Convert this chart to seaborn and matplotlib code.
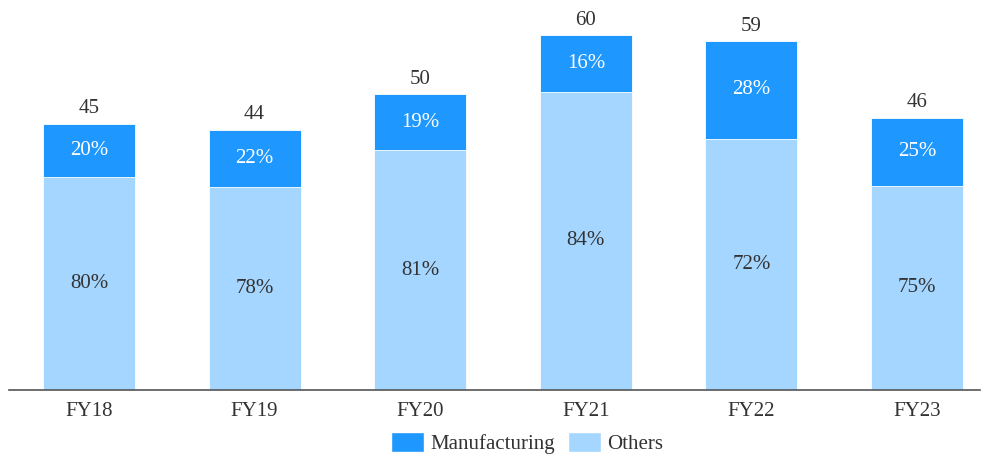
import matplotlib
matplotlib.use("Agg")
import matplotlib.pyplot as plt
import seaborn as sns
import pandas as pd
from matplotlib.patches import Patch

# --- Data ---
years = ["FY18", "FY19", "FY20", "FY21", "FY22", "FY23"]
totals = [45, 44, 50, 60, 59, 46]
manufacturing_pct = [20, 22, 19, 16, 28, 25]
others_pct = [80, 78, 81, 84, 72, 75]

DARK = "#1E98FF"
LIGHT = "#A5D6FF"
TEXT = "#333333"
FS = 15

df = pd.DataFrame({"year": years, "total": totals,
                   "manu": manufacturing_pct, "others": others_pct})
df["others_val"] = df["total"] * df["others"] / 100

sns.set_style("white")
plt.rcParams["font.family"] = ["Liberation Serif", "DejaVu Serif"]

fig = plt.figure(figsize=(9.81, 4.55), dpi=100)
ax = fig.add_axes([9 / 981, 65 / 455, 971 / 981, 390 / 455])

# full stack in dark blue, then the "others" part drawn over it
sns.barplot(data=df, x="year", y="total", color=DARK, width=0.556,
            saturation=1, ax=ax)
sns.barplot(data=df, x="year", y="others_val", color=LIGHT, width=0.556,
            saturation=1, ax=ax)
for p in ax.patches:
    p.set_edgecolor("white")
    p.set_linewidth(0.6)

for i, row in df.iterrows():
    ax.text(i, row["total"] + 0.9, f"{row['total']}", ha="center", va="bottom",
            fontsize=FS, color=TEXT)
    ax.text(i, (row["others_val"] + row["total"]) / 2, f"{row['manu']}%",
            ha="center", va="center", fontsize=FS, color="white")
    ax.text(i, row["others_val"] / 2, f"{row['others']}%",
            ha="center", va="center", fontsize=FS, color=TEXT)

ax.set_xlim(-0.483, 5.38)
ax.set_ylim(0, 65.9)
ax.set_xlabel("")
ax.set_ylabel("")
ax.set_yticks([])
ax.tick_params(axis="x", length=0, labelsize=FS, colors=TEXT, pad=9)
for s in ["top", "right", "left"]:
    ax.spines[s].set_visible(False)
ax.spines["bottom"].set_color("#555555")
ax.spines["bottom"].set_linewidth(1.2)

handles = [Patch(facecolor=DARK, label="Manufacturing"),
           Patch(facecolor=LIGHT, label="Others")]
fig.legend(handles=handles, loc="center", bbox_to_anchor=(527 / 981, 12 / 455),
           ncol=2, frameon=False, fontsize=FS, handlelength=1.6,
           handleheight=1.1, handletextpad=0.3, columnspacing=0.6,
           labelcolor=TEXT)

fig.savefig("out.png", dpi=100)
